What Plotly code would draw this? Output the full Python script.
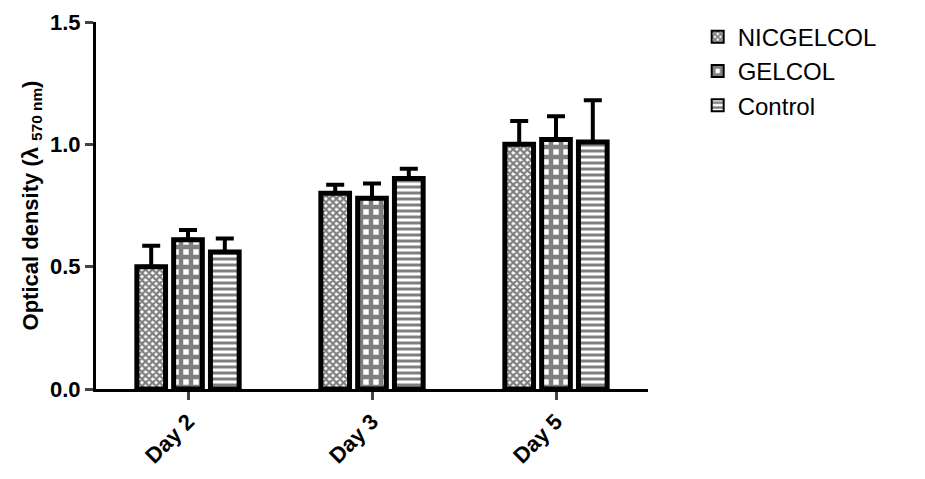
import plotly.graph_objects as go

# Data
days = ["Day 2", "Day 3", "Day 5"]
nicgelcol = [0.50, 0.80, 1.00]
nicgelcol_err = [0.085, 0.035, 0.095]
gelcol = [0.61, 0.78, 1.02]
gelcol_err = [0.04, 0.06, 0.095]
control = [0.56, 0.86, 1.01]
control_err = [0.055, 0.04, 0.17]

series = [
    ("NICGELCOL", nicgelcol, nicgelcol_err, dict(shape="x", size=5, solidity=0.7)),
    ("GELCOL", gelcol, gelcol_err, dict(shape="+", size=10, solidity=0.7)),
    ("Control", control, control_err, dict(shape="-", size=6, solidity=0.5)),
]

fig = go.Figure()
for name, vals, errs, pat in series:
    fig.add_trace(go.Bar(
        name=name, x=days, y=vals,
        error_y=dict(type="data", array=errs, symmetric=False, color="black",
                     thickness=4, width=9),
        marker=dict(color="white", line=dict(color="black", width=5),
                    pattern=dict(fgcolor="black", bgcolor="white", **pat)),
    ))

fig.update_layout(
    width=925, height=479,
    margin=dict(l=88, r=285, t=14, b=98, autoexpand=False),
    plot_bgcolor="white", paper_bgcolor="white",
    barmode="group", bargap=0.4, bargroupgap=0.22,
    font=dict(family="Liberation Sans, Arial", color="black"),
    legend=dict(x=1.09, y=1.02, xanchor="left", yanchor="top",
                font=dict(size=24), tracegroupgap=4, itemsizing="constant"),
    showlegend=True,
)
fig.update_xaxes(showline=True, linecolor="black", linewidth=3, ticks="outside",
                 tickwidth=3, ticklen=8, tickangle=-45, automargin=False,
                 tickfont=dict(size=22),
                 ticktext=[f"<b>{d}</b>" for d in days], tickvals=days)
fig.update_yaxes(range=[0, 1.5], showline=True, automargin=False,
                 linecolor="black", linewidth=3, ticks="outside", tickwidth=3,
                 ticklen=8, showgrid=False, zeroline=False,
                 tickfont=dict(size=22),
                 ticktext=["<b>0.0</b>", "<b>0.5</b>", "<b>1.0</b>", "<b>1.5</b>"],
                 tickvals=[0, 0.5, 1.0, 1.5],
                 title=dict(text="<b>Optical density (λ <sub>570 nm</sub>)</b>",
                            font=dict(size=22), standoff=6))

fig.write_html("out.html")
